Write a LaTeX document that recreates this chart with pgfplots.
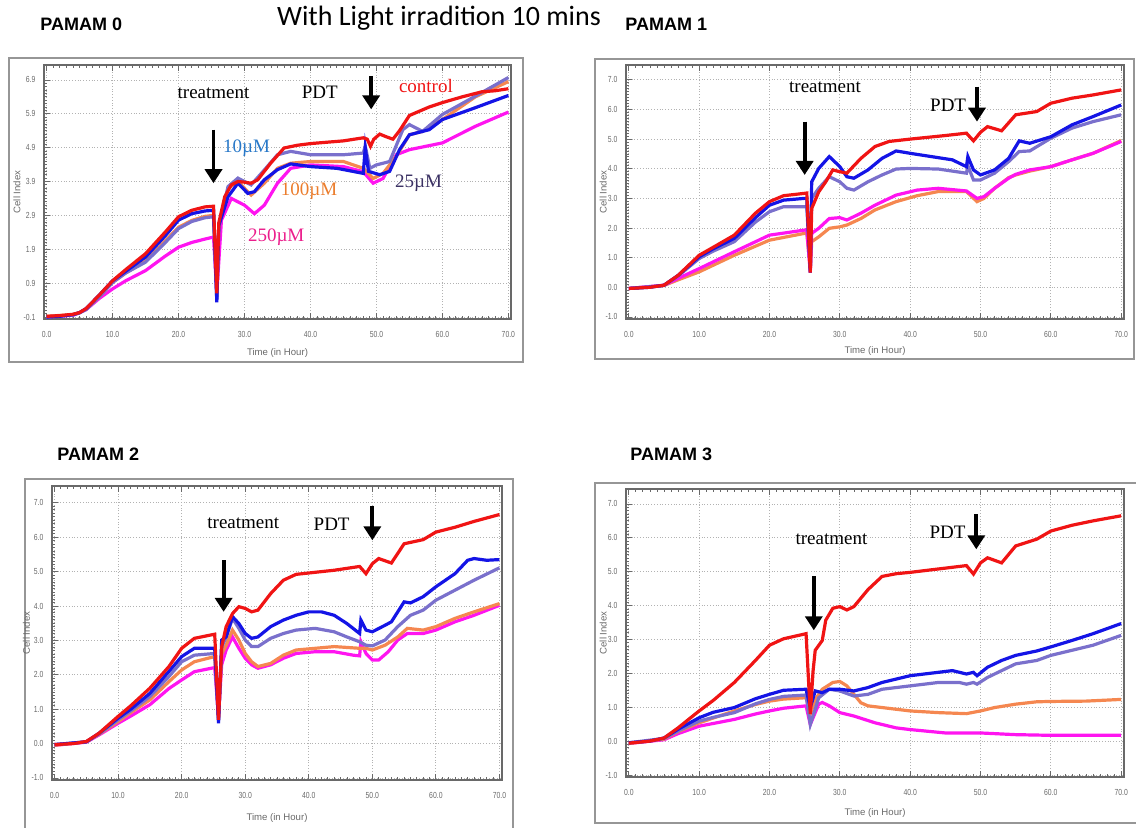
\documentclass[border=0pt]{standalone}
\usepackage{fontspec}
\setmainfont{Liberation Sans}
\newfontfamily\lserif{Liberation Serif}
\newfontfamily\carl{Carlito}
\usepackage{pgfplots}
\pgfplotsset{compat=1.18}
\usetikzlibrary{arrows.meta}

\definecolor{cred}{RGB}{240,20,20}
\definecolor{cblue}{RGB}{20,20,230}
\definecolor{cpurp}{RGB}{122,112,204}
\definecolor{corange}{RGB}{245,135,80}
\definecolor{cmag}{RGB}{255,20,240}
\definecolor{frm}{RGB}{150,150,150}
\definecolor{axgray}{RGB}{105,105,105}
\definecolor{c10}{RGB}{40,120,200}
\definecolor{c100}{RGB}{235,125,45}
\definecolor{c25}{RGB}{60,50,100}
\definecolor{c250}{RGB}{235,30,140}

\tikzset{
 ann/.style={font=\lserif\fontsize{9.5}{10}\selectfont},
 arr/.style={-{Triangle[length=7pt,width=8.5pt]}, line width=1.9pt, black},
 ptitle/.style={anchor=west, inner sep=0pt, font=\bfseries\fontsize{9}{10}\selectfont},
}

\pgfplotsset{
 cell/.style={
  scale only axis, anchor=south west,
  xmin=-0.4, xmax=70.4,
  xtick={0,10,20,30,40,50,60,70},
  xticklabels={0.0,10.0,20.0,30.0,40.0,50.0,60.0,70.0},
  minor x tick num=9, minor y tick num=9,
  ytick pos=left,
  tick align=inside,
  major tick length=3pt, minor tick length=1.5pt,
  tick style={axgray, line width=0.4pt},
  grid=major,
  major grid style={densely dotted, gray!60, line width=0.4pt},
  axis line style={axgray, line width=0.8pt},
  tick label style={font=\fontsize{4.4}{5}\selectfont, text=axgray, xscale=0.78},
  xticklabel style={yshift=-2.5pt},
  yticklabel style={xshift=-2pt},
  xlabel={Time (in Hour)}, ylabel={Cell Index},
  label style={font=\fontsize{4.8}{5.5}\selectfont, text=axgray},
  every axis plot/.append style={line width=1.6pt, no markers},
 },
 std/.style={ytick={-1,0,1,2,3,4,5,6,7},
  yticklabels={-1.0,0.0,1.0,2.0,3.0,4.0,5.0,6.0,7.0}},
}

\begin{document}
\begin{tikzpicture}
\useasboundingbox (0,0) rectangle (568pt,413.5pt);
\clip (0,0) rectangle (568pt,413.5pt);

% frames
\draw[frm, line width=1.2pt] (4.5pt,384.5pt) rectangle (261.5pt,232.5pt);
\draw[frm, line width=1.2pt] (297.5pt,384pt) rectangle (567pt,234pt);
\draw[frm, line width=1.2pt] (12.5pt,174pt) rectangle (256.5pt,-3pt);
\draw[frm, line width=1.2pt] (297.5pt,172pt) rectangle (572pt,2pt);

% titles
\node[font=\carl\fontsize{14}{15}\selectfont] at (219.5pt,404.5pt) {With Light irradition 10 mins};
\node[ptitle] at (20pt,401.5pt) {PAMAM 0};
\node[ptitle] at (312.5pt,401.5pt) {PAMAM 1};
\node[ptitle] at (28.5pt,186.5pt) {PAMAM 2};
\node[ptitle] at (315pt,186.5pt) {PAMAM 3};

% ---------------- PAMAM 0 ----------------
\begin{axis}[cell, at={(22pt,254pt)}, width=233.5pt, height=127pt,
  ylabel style={at={(axis description cs:-0.058,0.5)}, anchor=center},
  xlabel style={yshift=1pt},
  ymin=-0.16, ymax=7.34,
  ytick={-0.1,0.9,1.9,2.9,3.9,4.9,5.9,6.9},
  yticklabels={-0.1,0.9,1.9,2.9,3.9,4.9,5.9,6.9}]
\addplot[cmag] coordinates {(0,-0.1)(4,-0.05)(5,0.03)(6,0.12)(8,0.45)(10,0.73)(12,0.97)(15,1.27)(18,1.7)(20,1.96)(22,2.1)(24,2.2)(25.3,2.26)(25.8,0.6)(26.5,2.76)(28,3.4)(30,3.2)(31.5,2.95)(33,3.2)(35,3.85)(37,4.29)(40,4.39)(45,4.34)(48,4.19)(49.5,3.85)(51,3.99)(53,4.69)(55,4.84)(60,5.04)(65,5.53)(70,5.95)};
\addplot[corange] coordinates {(0,-0.08)(4,-0.03)(5,0.03)(6,0.14)(8,0.5)(10,0.92)(12,1.2)(15,1.55)(18,2.15)(20,2.55)(22,2.75)(24,2.87)(25.3,2.9)(25.8,0.5)(26.1,2.6)(27.5,3.7)(29,3.9)(31,3.5)(33,3.85)(35,4.29)(37,4.44)(40,4.49)(45,4.49)(48,4.29)(49.5,3.99)(51,4.14)(53,4.64)(55,5.28)(57,5.38)(60,5.73)(65,6.4)(70,6.85)};
\addplot[cpurp] coordinates {(0,-0.1)(4,-0.04)(5,0.02)(6,0.12)(8,0.5)(10,0.92)(12,1.2)(15,1.52)(18,2.1)(20,2.51)(22,2.72)(24,2.83)(25.3,2.86)(25.8,0.4)(26.1,2.55)(27.5,3.75)(29,4.0)(31,3.8)(33,4.24)(35,4.69)(37,4.79)(40,4.69)(45,4.69)(48,4.74)(48.3,4.95)(49,4.29)(50,4.39)(52,4.49)(54,5.43)(55,5.58)(57,5.38)(60,5.88)(65,6.42)(70,6.97)};
\addplot[cblue] coordinates {(0,-0.1)(2,-0.08)(4,-0.03)(5,0.03)(6,0.15)(8,0.55)(10,0.97)(12,1.25)(15,1.67)(18,2.3)(20,2.76)(22,2.95)(24,3.03)(25.3,3.05)(25.8,0.33)(26.1,2.6)(27.5,3.45)(29,3.85)(30.5,3.55)(31.5,3.6)(33,3.95)(35,4.25)(37,4.42)(40,4.34)(44,4.29)(48,4.14)(48.3,4.9)(48.8,4.2)(50.5,4.1)(52,4.2)(53.5,4.84)(55,5.28)(58,5.43)(60,5.73)(65,6.08)(70,6.44)};
\addplot[cred] coordinates {(0,-0.08)(2,-0.06)(4,-0.02)(5,0.03)(6,0.15)(8,0.55)(10,0.97)(12,1.3)(15,1.77)(18,2.41)(20,2.86)(22,3.05)(24,3.15)(25.3,3.17)(25.8,0.6)(26.1,2.68)(27,3.45)(28,3.8)(29,3.9)(30,3.88)(31,3.85)(32,3.95)(34,4.45)(36,4.89)(38,4.97)(40,5.02)(45,5.1)(48,5.19)(48.6,5.15)(49.1,4.94)(49.6,5.15)(50.5,5.3)(51.5,5.22)(52.5,5.15)(53.5,5.4)(55,5.85)(58,6.1)(60,6.23)(63,6.4)(66,6.55)(68,6.58)(70,6.64)};
\node[ann] at (25.3,6.52) {treatment};
\node[ann] at (41.4,6.52) {PDT};
\draw[arr] (25.3,5.43) -- (25.3,3.85);
\draw[arr] (49.2,7.02) -- (49.2,6.03);
\node[ann, text=cred] at (57.5,6.72) {control};
\node[ann, text=c10] at (30.3,4.89) {10µM};
\node[ann, text=c100] at (39.8,3.6) {100µM};
\node[ann, text=c25] at (56.4,3.85) {25µM};
\node[ann, text=c250] at (34.8,2.26) {250µM};
\end{axis}

% ---------------- PAMAM 1 ----------------
\begin{axis}[cell, std, at={(313pt,254pt)}, width=249pt, height=127pt,
  ylabel style={at={(axis description cs:-0.046,0.5)}, anchor=center},
  xlabel style={yshift=2pt},
  ymin=-1.07, ymax=7.5]
\addplot[corange] coordinates {(0,-0.04)(5,0.06)(7,0.25)(10,0.52)(15,1.08)(20,1.59)(25,1.82)(25.3,1.84)(25.8,0.6)(26,1.54)(27,1.7)(28.5,1.99)(30,2.04)(31,2.1)(33,2.32)(35,2.61)(38,2.89)(41,3.09)(44,3.23)(48,3.23)(49.5,2.89)(50.5,3.0)(52,3.34)(54,3.7)(55,3.79)(57,3.92)(60,4.07)(63,4.3)(66,4.52)(70,4.95)};
\addplot[cmag] coordinates {(0,-0.04)(5,0.07)(7,0.3)(10,0.63)(15,1.2)(20,1.76)(25,1.93)(25.3,1.95)(25.8,0.5)(26,1.82)(27,1.99)(28.5,2.32)(30,2.35)(31,2.27)(33,2.5)(35,2.77)(38,3.11)(41,3.28)(44,3.34)(48,3.25)(49.5,3.0)(50.5,3.06)(52,3.34)(54,3.68)(55,3.81)(57,3.96)(60,4.07)(63,4.3)(66,4.52)(70,4.92)};
\addplot[cpurp] coordinates {(0,-0.04)(5,0.06)(7,0.38)(10,0.97)(12,1.22)(15,1.54)(18,2.2)(20,2.55)(22,2.72)(25.3,2.72)(25.8,0.55)(26,3.0)(27,3.34)(28.5,3.73)(30,3.56)(31,3.34)(32,3.28)(34,3.56)(36,3.79)(38,3.99)(40,4.01)(44,3.99)(48,3.85)(48.2,4.1)(49,3.62)(50,3.62)(52,3.85)(54,4.24)(55.5,4.58)(57,4.6)(60,5.03)(63,5.37)(66,5.59)(70,5.82)};
\addplot[cblue] coordinates {(0,-0.04)(3,0.0)(5,0.07)(7,0.4)(10,1.03)(12,1.3)(15,1.65)(18,2.35)(20,2.77)(22,2.94)(25,3.0)(25.3,3.0)(25.8,0.5)(26,3.56)(27,4.01)(28.5,4.41)(30,4.07)(31,3.73)(32,3.68)(34,3.96)(36,4.35)(38,4.6)(40,4.52)(43,4.41)(46,4.3)(48,4.07)(48.2,4.41)(49,3.96)(50,3.79)(52,3.96)(54,4.35)(55.5,4.94)(57,4.86)(60,5.08)(63,5.48)(66,5.76)(70,6.15)};
\addplot[cred] coordinates {(0,-0.04)(3,0.0)(5,0.07)(7,0.4)(10,1.08)(12,1.35)(15,1.76)(18,2.5)(20,2.89)(22,3.09)(25,3.17)(25.3,3.18)(25.8,0.5)(26,2.66)(27,3.22)(28,3.56)(29,3.96)(30,3.9)(31,3.85)(33,4.35)(35,4.75)(37,4.92)(40,5.0)(45,5.12)(48,5.2)(49,4.94)(50,5.23)(51,5.42)(53,5.28)(55,5.82)(58,5.93)(60,6.21)(63,6.38)(66,6.49)(70,6.66)};
\node[ann] at (27.9,6.75) {treatment};
\node[ann] at (45.4,6.15) {PDT};
\draw[arr] (25,5.59) -- (25,3.79);
\draw[arr] (49.5,6.77) -- (49.5,5.59);
\end{axis}

% ---------------- PAMAM 2 ----------------
\begin{axis}[cell, std, at={(26pt,23.5pt)}, width=225pt, height=147pt,
  ylabel style={at={(axis description cs:-0.057,0.5)}, anchor=center},
  xlabel style={yshift=-1pt},
  ymin=-1.06, ymax=7.49]
\addplot[cmag] coordinates {(0,-0.05)(5,0.04)(7,0.25)(10,0.59)(12,0.8)(15,1.13)(18,1.6)(20,1.85)(22,2.09)(25.2,2.21)(25.8,0.79)(26.3,2.3)(27,2.72)(28,3.1)(29,2.77)(30,2.48)(31,2.29)(32,2.19)(34,2.29)(36,2.48)(38,2.62)(41,2.67)(44,2.67)(47,2.57)(48,2.55)(48.2,2.96)(49,2.62)(50,2.43)(51,2.43)(52.5,2.67)(54,3.01)(55.5,3.2)(58,3.2)(60,3.3)(63,3.54)(66,3.73)(70,4.02)};
\addplot[corange] coordinates {(0,-0.05)(5,0.05)(7,0.27)(10,0.64)(12,0.9)(15,1.27)(18,1.8)(20,2.14)(22,2.38)(25.2,2.53)(25.8,0.75)(26.3,2.6)(27,2.86)(28,3.3)(29,3.01)(30,2.62)(31,2.38)(32,2.24)(34,2.33)(36,2.57)(38,2.72)(41,2.77)(44,2.82)(48,2.77)(49,2.77)(50,2.72)(52,2.86)(54,3.1)(55.5,3.35)(58,3.3)(60,3.4)(63,3.64)(66,3.83)(70,4.07)};
\addplot[cpurp] coordinates {(0,-0.03)(5,0.05)(7,0.28)(10,0.69)(12,0.95)(15,1.37)(18,1.95)(20,2.38)(22,2.57)(25.2,2.62)(25.8,0.65)(26.3,2.8)(27,3.1)(28,3.64)(29,3.35)(30,3.01)(31,2.82)(32,2.82)(34,3.06)(36,3.2)(38,3.3)(41,3.35)(44,3.25)(46,3.1)(48,2.96)(49,2.86)(50,2.84)(52,3.01)(54,3.4)(56,3.73)(58,3.88)(60,4.17)(63,4.46)(66,4.75)(70,5.11)};
\addplot[cblue] coordinates {(0,-0.03)(5,0.05)(7,0.3)(10,0.74)(12,1.0)(15,1.46)(18,2.1)(20,2.53)(22,2.77)(25.2,2.77)(25.8,0.59)(26.3,3.01)(27,3.1)(28,3.69)(29,3.49)(30,3.2)(31,3.06)(32,3.1)(34,3.4)(36,3.59)(38,3.73)(40,3.83)(42,3.83)(44,3.73)(46,3.49)(48,3.2)(48.2,3.59)(49,3.3)(50,3.25)(52,3.44)(53,3.54)(55,4.12)(56,4.09)(58,4.27)(60,4.56)(63,4.94)(65,5.33)(66,5.38)(68,5.33)(70,5.35)};
\addplot[cred] coordinates {(0,-0.03)(3,0.0)(5,0.06)(7,0.3)(10,0.79)(12,1.1)(15,1.61)(18,2.24)(20,2.77)(22,3.06)(25.2,3.18)(25.8,0.69)(26.3,2.82)(27,3.4)(28,3.78)(29,3.98)(30,3.93)(31,3.83)(32,3.88)(34,4.36)(36,4.75)(38,4.92)(40,4.96)(44,5.04)(48,5.15)(49,4.94)(50,5.23)(51,5.38)(53,5.25)(55,5.81)(58,5.93)(60,6.15)(63,6.29)(66,6.46)(70,6.66)};
\node[ann] at (29.7,6.41) {treatment};
\node[ann] at (43.6,6.39) {PDT};
\draw[arr] (26.6,5.33) -- (26.6,3.83);
\draw[arr] (50,6.92) -- (50,5.91);
\end{axis}

% ---------------- PAMAM 3 ----------------
\begin{axis}[cell, std, at={(313pt,25pt)}, width=249pt, height=144pt,
  ylabel style={at={(axis description cs:-0.046,0.5)}, anchor=center},
  xlabel style={yshift=0pt},
  ymin=-1.06, ymax=7.44]
\addplot[cmag] coordinates {(0,-0.07)(5,0.04)(7,0.22)(10,0.44)(12,0.52)(15,0.64)(18,0.8)(20,0.89)(22,0.97)(25.2,1.04)(25.8,0.49)(27,1.09)(27.5,1.14)(28.5,1.04)(30,0.84)(32,0.74)(35,0.54)(38,0.39)(40,0.34)(45,0.24)(50,0.24)(55,0.19)(60,0.17)(65,0.17)(70,0.17)};
\addplot[corange] coordinates {(0,-0.07)(5,0.06)(7,0.28)(10,0.54)(12,0.68)(15,0.89)(18,1.08)(20,1.18)(22,1.24)(25.2,1.28)(25.8,0.79)(26.5,1.23)(27.5,1.53)(29,1.73)(30,1.76)(31,1.63)(32,1.38)(33,1.13)(34,1.04)(36,0.99)(40,0.89)(44,0.84)(48,0.81)(50,0.89)(52,0.99)(55,1.09)(58,1.16)(60,1.17)(65,1.18)(70,1.23)};
\addplot[cpurp] coordinates {(0,-0.05)(5,0.08)(7,0.3)(10,0.59)(12,0.7)(15,0.84)(18,1.1)(20,1.23)(22,1.32)(25.2,1.36)(25.8,0.49)(27,1.28)(28.5,1.53)(30,1.48)(32,1.33)(34,1.38)(36,1.53)(40,1.63)(44,1.73)(47,1.73)(48,1.68)(49,1.73)(49.5,1.68)(51,1.88)(53,2.08)(55,2.28)(58,2.38)(60,2.53)(63,2.68)(66,2.83)(70,3.12)};
\addplot[cblue] coordinates {(0,-0.05)(3,0.0)(5,0.09)(7,0.35)(10,0.69)(12,0.85)(15,0.99)(18,1.25)(20,1.38)(22,1.5)(25.2,1.53)(25.8,0.99)(26.5,1.48)(27.5,1.43)(28.5,1.53)(30,1.53)(32,1.48)(34,1.58)(36,1.73)(40,1.93)(44,2.03)(46,2.08)(48,1.98)(49,2.03)(49.5,1.93)(51,2.18)(53,2.38)(55,2.53)(58,2.66)(60,2.78)(63,2.97)(66,3.17)(70,3.47)};
\addplot[cred] coordinates {(0,-0.06)(3,0.0)(5,0.09)(7,0.39)(10,0.89)(12,1.2)(15,1.73)(18,2.38)(20,2.83)(22,3.02)(25.2,3.17)(25.8,0.8)(26.2,2.08)(26.5,2.68)(27.5,2.97)(28,3.57)(29,3.92)(30,3.97)(31,3.87)(32,3.97)(34,4.47)(36,4.86)(38,4.94)(40,4.98)(44,5.08)(48,5.18)(49,4.93)(50,5.26)(51,5.41)(53,5.26)(55,5.76)(58,5.96)(60,6.2)(63,6.37)(66,6.5)(70,6.65)};
\node[ann] at (28.8,5.96) {treatment};
\node[ann] at (45.3,6.17) {PDT};
\draw[arr] (26.3,4.86) -- (26.3,3.27);
\draw[arr] (49.4,6.7) -- (49.4,5.66);
\end{axis}
\end{tikzpicture}
\end{document}
